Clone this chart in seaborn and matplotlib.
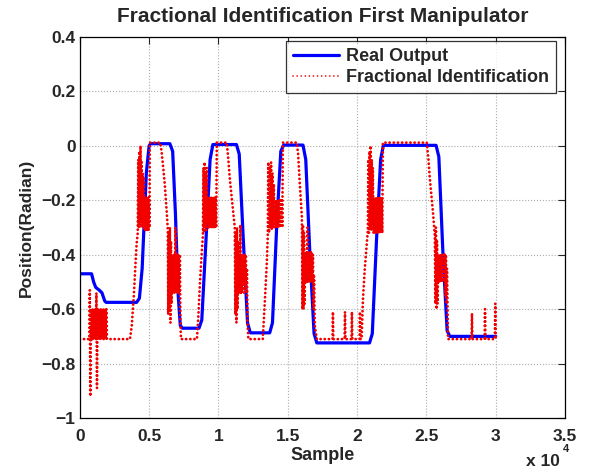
import matplotlib
matplotlib.use("Agg")
import matplotlib.pyplot as plt
import pandas as pd
import seaborn as sns

# Measured joint position (samples, radians)
real_x = [0, 850, 1000, 1150, 1400, 1600, 1800, 1900, 4100, 4300, 4500, 4800, 5000, 5100,
          6500, 6700, 6900, 7100, 7250, 7400, 8600, 8800, 9100, 9400, 9600,
          11300, 11500, 11800, 12100, 12300, 13700, 13900, 14200, 14500, 14700,
          16100, 16300, 16600, 16900, 17100, 20900, 21100, 21400, 21700, 21900,
          25700, 25900, 26200, 26500, 26700, 30000]
real_y = [-0.47, -0.47, -0.50, -0.52, -0.53, -0.54, -0.57, -0.575, -0.575, -0.56, -0.45, -0.10, 0.0, 0.008,
          0.008, -0.02, -0.25, -0.55, -0.66, -0.67, -0.67, -0.64, -0.35, -0.05, 0.005,
          0.005, -0.03, -0.35, -0.65, -0.687, -0.687, -0.65, -0.30, -0.02, 0.003,
          0.003, -0.05, -0.40, -0.69, -0.724, -0.724, -0.69, -0.35, -0.05, 0.002,
          0.002, -0.04, -0.40, -0.68, -0.70, -0.70]

# Fractional-order model output, piece by piece (samples, radians)
ident_start = [(0, -0.71), (700, -0.71), (720, -0.53), (760, -0.92), (800, -0.60), (840, -0.71),
               (880, -0.60), (920, -0.71), (960, -0.60), (1000, -0.71), (1040, -0.60), (1080, -0.71),
               (1120, -0.60), (1160, -0.71), (1200, -0.54), (1240, -0.89), (1280, -0.60), (1320, -0.71),
               (1360, -0.60), (1400, -0.71), (1440, -0.60), (1480, -0.71), (1520, -0.60), (1560, -0.71),
               (1600, -0.60), (1640, -0.71), (1680, -0.60), (1720, -0.71), (1760, -0.60), (1800, -0.71),
               (1840, -0.60), (1880, -0.71), (1920, -0.60), (1960, -0.71), (3620, -0.71)]

ident_cycle1 = [(3750, -0.66), (3900, -0.55), (4000, -0.45), (4100, -0.36), (4180, -0.32),
                (4220, -0.05), (4260, -0.30), (4300, -0.02), (4340, -0.28), (4380, 0.00), (4420, -0.30),
                (4460, -0.06), (4500, -0.25), (4540, -0.10), (4580, -0.30), (4620, -0.12), (4660, -0.31),
                (4700, -0.19), (4730, -0.31), (4760, -0.19), (4790, -0.31), (4820, -0.19), (4850, -0.31),
                (4880, -0.19), (4910, -0.31), (4940, -0.19), (4970, -0.31), (5000, -0.20), (5030, -0.30),
                (5050, 0.012), (5800, 0.012),
                (5900, -0.02), (6000, -0.07), (6130, -0.14), (6280, -0.25), (6350, -0.31),
                (6380, -0.62), (6420, -0.32), (6460, -0.60), (6500, -0.30), (6540, -0.65), (6580, -0.35),
                (6620, -0.58), (6660, -0.40), (6700, -0.54), (6740, -0.40), (6780, -0.54), (6820, -0.40),
                (6860, -0.54), (6900, -0.30), (6940, -0.54), (6980, -0.40), (7020, -0.54), (7060, -0.40),
                (7100, -0.54), (7140, -0.40), (7180, -0.54), (7220, -0.40),
                (7260, -0.65), (7300, -0.71), (8450, -0.71)]

ident_cycle2 = [(8560, -0.62), (8660, -0.51), (8800, -0.39), (8880, -0.33),
                (8920, -0.08), (8960, -0.32), (9000, -0.06), (9040, -0.30), (9080, -0.10), (9120, -0.31),
                (9160, -0.08), (9200, -0.28),
                (9240, -0.19), (9280, -0.30), (9320, -0.19), (9360, -0.30), (9400, -0.19), (9440, -0.30),
                (9480, -0.19), (9520, -0.30), (9560, -0.19), (9600, -0.30), (9640, -0.19), (9680, -0.30),
                (9720, -0.19), (9760, -0.30), (9800, -0.19), (9840, -0.30),
                (9885, 0.012), (10600, 0.012),
                (10700, -0.04), (10820, -0.12), (11040, -0.23), (11180, -0.30),
                (11220, -0.62), (11260, -0.32), (11300, -0.65), (11340, -0.30), (11380, -0.60), (11420, -0.35),
                (11460, -0.54), (11500, -0.40), (11540, -0.54), (11580, -0.29), (11620, -0.54), (11660, -0.40),
                (11700, -0.54), (11740, -0.40), (11780, -0.51), (11820, -0.40), (11860, -0.54), (11900, -0.40),
                (11940, -0.51), (11980, -0.40), (12020, -0.54), (12060, -0.45),
                (12100, -0.65), (12160, -0.71), (13200, -0.71)]

ident_cycle3 = [(13350, -0.57), (13490, -0.43), (13560, -0.33),
                (13600, -0.06), (13650, -0.32), (13700, -0.08), (13750, -0.30), (13800, -0.06), (13850, -0.31),
                (13900, -0.10), (13950, -0.30), (14000, -0.14), (14050, -0.30),
                (14090, -0.20), (14130, -0.30), (14170, -0.20), (14210, -0.30), (14250, -0.20), (14290, -0.30),
                (14330, -0.20), (14370, -0.30), (14410, -0.20), (14450, -0.30), (14490, -0.20), (14530, -0.30),
                (14570, -0.20), (14610, -0.30),
                (14646, 0.012), (15650, 0.012),
                (15750, -0.03), (15870, -0.14), (16020, -0.26),
                (16060, -0.60), (16100, -0.29), (16140, -0.60), (16180, -0.32), (16220, -0.58), (16260, -0.39),
                (16300, -0.50), (16340, -0.39), (16380, -0.50), (16420, -0.30), (16460, -0.50), (16500, -0.39),
                (16540, -0.50), (16580, -0.39), (16620, -0.50), (16660, -0.39), (16700, -0.50), (16740, -0.39),
                (16780, -0.50), (16820, -0.40), (16860, -0.60), (16900, -0.48), (16950, -0.66),
                (17100, -0.71), (18230, -0.71), (18260, -0.61), (18290, -0.71), (19100, -0.71), (19130, -0.61),
                (19160, -0.71), (19600, -0.71), (19630, -0.61), (19660, -0.71), (20180, -0.71), (20210, -0.61),
                (20240, -0.71), (20330, -0.71)]

ident_cycle4 = [(20420, -0.57), (20560, -0.45), (20700, -0.36), (20780, -0.31),
                (20820, -0.05), (20860, -0.32), (20900, -0.02), (20940, -0.30), (20980, 0.00), (21020, -0.31),
                (21060, -0.05), (21100, -0.29), (21140, -0.08),
                (21180, -0.32), (21220, -0.19), (21260, -0.32), (21300, -0.19), (21340, -0.32), (21380, -0.19),
                (21420, -0.32), (21460, -0.19), (21500, -0.32), (21540, -0.19), (21580, -0.32), (21620, -0.19),
                (21660, -0.32), (21700, -0.19), (21740, -0.32), (21780, -0.19), (21820, -0.32),
                (21862, 0.012), (25030, 0.012),
                (25150, -0.05), (25250, -0.12), (25470, -0.24), (25610, -0.33),
                (25650, -0.58), (25690, -0.30), (25730, -0.60), (25770, -0.35), (25810, -0.58), (25850, -0.40),
                (25890, -0.50), (25930, -0.40), (25970, -0.50), (26010, -0.40), (26050, -0.50), (26090, -0.40),
                (26130, -0.50), (26170, -0.40), (26210, -0.50), (26250, -0.40), (26290, -0.50), (26330, -0.40),
                (26370, -0.55), (26410, -0.40), (26450, -0.58), (26490, -0.45),
                (26560, -0.71), (28260, -0.71), (28290, -0.615), (28320, -0.71), (29200, -0.71),
                (29230, -0.60), (29260, -0.71), (29940, -0.71), (29970, -0.58), (30000, -0.71)]

x_ticks = [0, 5000, 10000, 15000, 20000, 25000, 30000, 35000]
x_tick_labels = ["0", "0.5", "1", "1.5", "2", "2.5", "3", "3.5"]
y_ticks = [-1.0, -0.8, -0.6, -0.4, -0.2, 0.0, 0.2, 0.4]
y_tick_labels = ["\u22121", "\u22120.8", "\u22120.6", "\u22120.4", "\u22120.2", "0", "0.2", "0.4"]

ident_pts = ident_start + ident_cycle1 + ident_cycle2 + ident_cycle3 + ident_cycle4
real_df = pd.DataFrame({"sample": real_x, "pos": real_y})
ident_df = pd.DataFrame({"sample": [p[0] for p in ident_pts], "pos": [p[1] for p in ident_pts]})

sns.set_style("white")
plt.rcParams["font.family"] = ["Liberation Sans", "DejaVu Sans"]
plt.rcParams["font.weight"] = "bold"

fig = plt.figure(figsize=(5.91, 4.75), dpi=100)
ax = fig.add_axes([0.135, 0.12, 0.821, 0.802])

DOTS = (0, (0.05, 1.45))

sns.lineplot(data=real_df, x="sample", y="pos", ax=ax, color=(0, 0, 1), lw=2.3,
             estimator=None, sort=False, label="Real Output")
sns.lineplot(data=ident_df, x="sample", y="pos", ax=ax, color=(0.95, 0, 0), lw=2.0,
             estimator=None, sort=False, label="Fractional Identification")
# round dots for the identified response
ident_line = ax.get_lines()[1]
ident_line.set_linestyle(DOTS)
ident_line.set_dash_capstyle("round")

ax.set_xlim(0, 35000)
ax.set_ylim(-1, 0.4)
ax.set_xticks(x_ticks)
ax.set_xticklabels(x_tick_labels, fontsize=12.5, fontweight="bold")
ax.set_yticks(y_ticks)
ax.set_yticklabels(y_tick_labels, fontsize=12.5, fontweight="bold")
ax.tick_params(direction="in", length=5, width=0.8, top=True, right=True)
ax.tick_params(axis="x", pad=8)
ax.tick_params(axis="y", pad=3)
ax.grid(True, linestyle=":", color="#aaaaaa", lw=0.8)
for sp in ax.spines.values():
    sp.set_color("black")
    sp.set_linewidth(0.9)

ax.set_title("Fractional Identification First Manipulator", fontsize=15, fontweight="bold", pad=11)
ax.set_xlabel("Sample", fontsize=13, fontweight="bold", labelpad=2)
ax.set_ylabel("Position(Radian)", fontsize=12.5, fontweight="bold", labelpad=5)
fig.text(0.89, 0.02, "x 10", fontsize=12.5, fontweight="bold")
fig.text(0.952, 0.048, "4", fontsize=8, fontweight="bold")

leg = ax.legend(loc="upper right", bbox_to_anchor=(0.9814, 0.9895), borderaxespad=0,
                fontsize=13, frameon=True, fancybox=False, edgecolor="black",
                handlelength=2.5, borderpad=0.4, labelspacing=0.2, handletextpad=0.4)
leg.get_frame().set_linewidth(0.9)
for t in leg.get_texts():
    t.set_fontweight("bold")
leg_lines = leg.get_lines()
leg_lines[1].set_linestyle((0, (0.05, 2.4)))
leg_lines[1].set_dash_capstyle("round")
leg_lines[1].set_linewidth(1.2)

fig.savefig("out.png", dpi=100)
